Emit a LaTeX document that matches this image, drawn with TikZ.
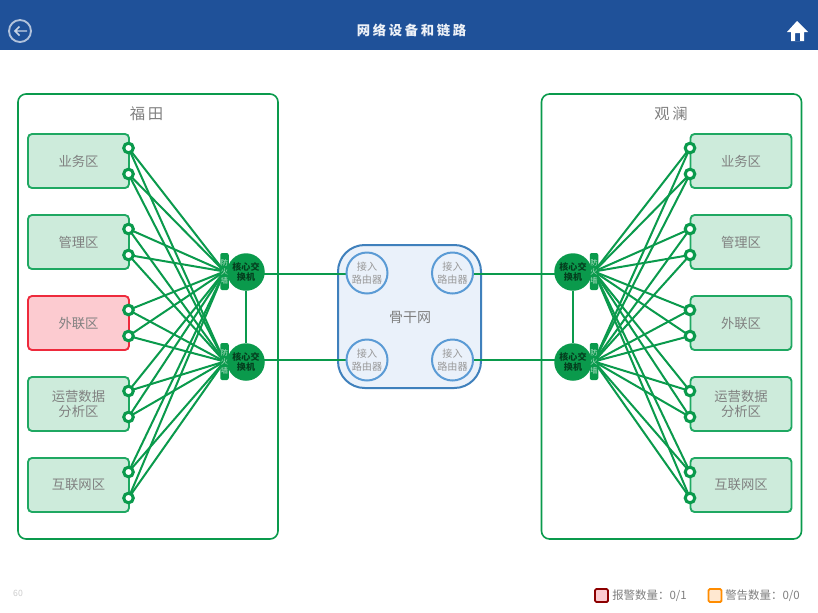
\documentclass[tikz,border=0pt]{standalone}
\usepackage{fontspec}
\setmainfont{Noto Sans CJK SC}
\pgfdeclarelayer{front}
\pgfsetlayers{main,front}
\definecolor{hdr}{HTML}{1F5199}
\definecolor{grn}{HTML}{0A9A4C}
\definecolor{boxline}{HTML}{1FA862}
\definecolor{boxfill}{HTML}{CDEBDB}
\definecolor{redline}{HTML}{EE2A3C}
\definecolor{redfill}{HTML}{FCCBD0}
\definecolor{bluel}{HTML}{3F80BC}
\definecolor{bluer}{HTML}{5B9BD5}
\definecolor{bluef}{HTML}{EAF1FA}
\definecolor{txt}{HTML}{808080}
\newcommand{\fs}[1]{\fontsize{#1}{#1}\selectfont}
\tikzset{
  x=0.75pt,y=-0.75pt,
  site/.style={draw=boxline,rounded corners=3pt,line width=1.4pt,minimum width=101*0.75pt,minimum height=54*0.75pt,inner sep=0pt,outer sep=0pt,align=center,text=txt,font=\fs{10},fill=boxfill},
  hot/.style={site,draw=redline,fill=redfill},
  zone/.style={draw=grn,rounded corners=6pt,line width=1.2pt,minimum width=260*0.75pt,minimum height=445*0.75pt,inner sep=0pt,outer sep=0pt},
  port/.style={circle,draw=grn,fill=white,line width=2.3pt,minimum size=9.6*0.75pt,inner sep=0pt,outer sep=0pt},
  switchnode/.style={circle,fill=grn,minimum size=37.5*0.75pt,inner sep=0pt,outer sep=0pt,align=center,text=black!60!grn,font=\fs{6.8}\bfseries},
  fwall/.style={fill=grn,rounded corners=1.5pt,minimum width=8.5*0.75pt,minimum height=37*0.75pt,inner sep=0pt,outer sep=0pt,align=center,text=white!70!grn,font=\fs{5.4}},
  router/.style={circle,draw=bluer,fill=bluef,line width=1.5pt,minimum size=41*0.75pt,inner sep=0pt,outer sep=0pt,align=center,text=black!40,font=\fs{7.6}},
  backbone/.style={draw=bluel,fill=bluef,rounded corners=20pt,line width=1.5pt,minimum width=143*0.75pt,minimum height=143*0.75pt,inner sep=0pt,outer sep=0pt},
  link/.style={draw=grn,line width=1.5pt},
  legendbox/.style={rounded corners=1pt,line width=1.4pt,minimum width=13*0.75pt,minimum height=13*0.75pt,inner sep=0pt,outer sep=0pt},
  legendtxt/.style={text=txt,font=\fs{8.6},inner sep=0pt,anchor=west},
}
\begin{document}
\begin{tikzpicture}
\useasboundingbox (0,0) rectangle (818,612);
\fill[white] (0,0) rectangle (818,612);
% header
\fill[hdr] (0,0) rectangle (818,50);
\node[text=white!92!hdr,font=\fs{10}\bfseries,inner sep=0pt] (title) at (411.5,30) {网\hspace{2pt}络\hspace{2pt}设\hspace{2pt}备\hspace{2pt}和\hspace{2pt}链\hspace{2pt}路};
% back icon
\draw[white!65!hdr,line width=1.4pt] (20,31) circle[radius=11];
\draw[white!75!hdr,line width=1.1pt] (27,31) -- (15,31) (19.5,26.5) -- (15,31) -- (19.5,35.5);
% home icon
\fill[white,even odd rule] (797,21) -- (808,32) -- (804,32) -- (804,41) -- (791,41) -- (791,32) -- (787,32) -- cycle
  (795,33) rectangle (800,41);
% zones
\node[zone,anchor=north west] (zoneL) at (18,94) {};
\node[zone,anchor=north west] (zoneR) at (541.5,94) {};
\node[text=txt,font=\fs{11.5},inner sep=0pt] (zoneLt) at (146.5,114) {福\hspace{2pt}田};
\node[text=txt,font=\fs{11.5},inner sep=0pt] (zoneRt) at (671,114) {观\hspace{2pt}澜};
% backbone
\node[backbone,anchor=north west] (bb) at (338,245) {};
\node[text=txt,font=\fs{10.5},inner sep=0pt] (bbt) at (410,317) {骨干网};
\begin{pgfonlayer}{front}
% sites left
\node[site] (L1) at (78.5,161) {业务区};
\node[site] (L2) at (78.5,242) {管理区};
\node[hot]  (L3) at (78.5,323) {外联区};
\node[site] (L4) at (78.5,404) {运营数据\\[1pt]分析区};
\node[site] (L5) at (78.5,485) {互联网区};
% sites right
\node[site] (R1) at (741,161) {业务区};
\node[site] (R2) at (741,242) {管理区};
\node[site] (R3) at (741,323) {外联区};
\node[site] (R4) at (741,404) {运营数据\\[1pt]分析区};
\node[site] (R5) at (741,485) {互联网区};
% ports
\foreach \n/\ya/\yb in {1/148/174,2/229/255,3/310/336,4/391/417,5/472/498}{
  \node[port] (pLa\n) at (128.5,\ya) {};
  \node[port] (pLb\n) at (128.5,\yb) {};
  \node[port] (pRa\n) at (690,\ya) {};
  \node[port] (pRb\n) at (690,\yb) {};
}
% switches and firewalls
\node[switchnode] (swL1) at (246,272) {核心交\\[0.6pt]换机};
\node[switchnode] (swL2) at (246,362) {核心交\\[0.6pt]换机};
\node[switchnode] (swR1) at (573,272) {核心交\\[0.6pt]换机};
\node[switchnode] (swR2) at (573,362) {核心交\\[0.6pt]换机};
\node[fwall] (fwL1) at (224.5,271.5) {防\\[1.5pt]火\\[1.5pt]墙};
\node[fwall] (fwL2) at (224.5,361.5) {防\\[1.5pt]火\\[1.5pt]墙};
\node[fwall] (fwR1) at (594,271.5) {防\\[1.5pt]火\\[1.5pt]墙};
\node[fwall] (fwR2) at (594,361.5) {防\\[1.5pt]火\\[1.5pt]墙};
% routers
\node[router] (rTL) at (367,273) {接入\\[2.5pt]路由器};
\node[router] (rTR) at (452.5,273) {接入\\[2.5pt]路由器};
\node[router] (rBL) at (367,360) {接入\\[2.5pt]路由器};
\node[router] (rBR) at (452.5,360) {接入\\[2.5pt]路由器};
\end{pgfonlayer}
% connectors (rendered below the nodes)
\foreach \n in {1,...,5}{
  \foreach \p in {a,b}{
    \draw[link] (pL\p\n.center) -- (fwL1.center);
    \draw[link] (pL\p\n.center) -- (fwL2.center);
    \draw[link] (pR\p\n.center) -- (fwR1.center);
    \draw[link] (pR\p\n.center) -- (fwR2.center);
  }
}
\draw[link] (swL1) -- (swL2);
\draw[link] (swR1) -- (swR2);
\draw[link] ([yshift=-1.5pt]swL1.center) -- ([yshift=-0.75pt]rTL.center);
\draw[link] ([yshift=-1.5pt]swR1.center) -- ([yshift=-0.75pt]rTR.center);
\draw[link] ([yshift=1.5pt]swL2.center) -- (rBL.center);
\draw[link] ([yshift=1.5pt]swR2.center) -- (rBR.center);
% footer
\node[text=black!20,font=\fs{6.5},inner sep=0pt] (fps) at (18,593) {60};
\node[legendbox,draw=black!45!red,fill=redfill] (lgA) at (601.5,595.5) {};
\node[legendtxt] (lgAt) at (612,596) {报警数量：0/1};
\node[legendbox,draw=orange!90!yellow,fill=orange!18] (lgB) at (715,595.5) {};
\node[legendtxt] (lgBt) at (725,596) {警告数量：0/0};
\end{tikzpicture}
\end{document}
